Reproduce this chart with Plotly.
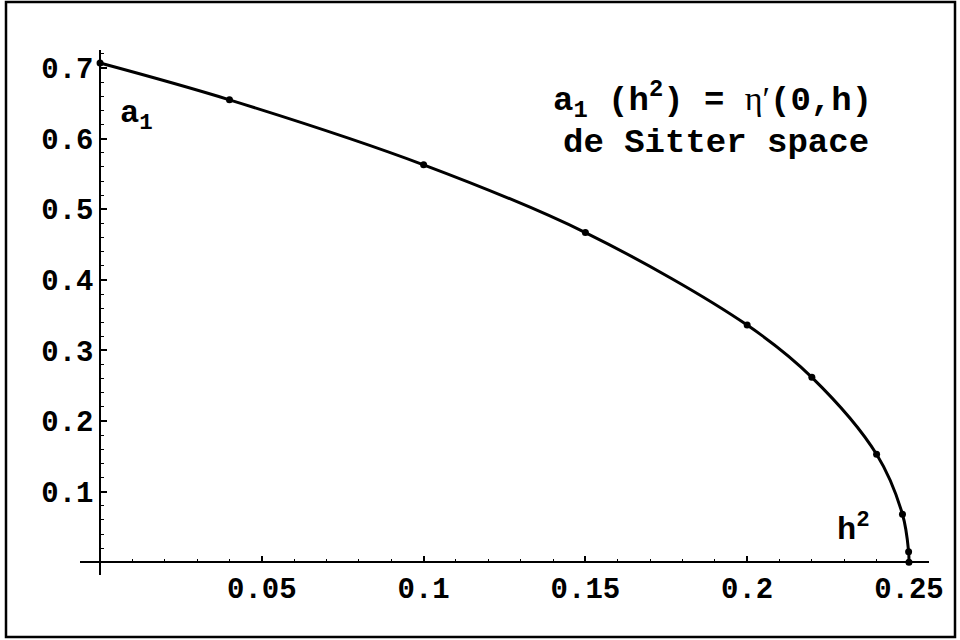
import plotly.graph_objects as go

# data
h2 = [0.0, 0.04, 0.1, 0.15, 0.2, 0.22, 0.24, 0.248, 0.2499, 0.25]
a1 = [0.7071, 0.655, 0.563, 0.467, 0.336, 0.262, 0.153, 0.068, 0.015, 0.0]

x_tickvals = [0.05, 0.1, 0.15, 0.2, 0.25]
x_ticktext = ["0.05", "0.1", "0.15", "0.2", "0.25"]
y_tickvals = [0.1, 0.2, 0.3, 0.4, 0.5, 0.6, 0.7]
y_ticktext = ["0.1", "0.2", "0.3", "0.4", "0.5", "0.6", "0.7"]

W, H = 960, 640
ML, MR, MT, MB = 80, 31, 50, 65
XR = [-0.0062, 0.2562]
YR = [-0.018, 0.7256]

FONT = "Liberation Mono"

def px_to_paper_x(px):
    return (px - ML) / (W - ML - MR)

def px_to_paper_y(py):
    return (H - MB - py) / (H - MT - MB)

fig = go.Figure()
fig.add_trace(go.Scatter(
    x=h2, y=a1, mode="lines+markers",
    line=dict(color="black", width=3, shape="spline", smoothing=1.0),
    marker=dict(color="black", size=7),
    showlegend=False, hoverinfo="skip",
))

xpos = (0 - YR[0]) / (YR[1] - YR[0])
ypos = (0 - XR[0]) / (XR[1] - XR[0])

fig.update_layout(
    width=W, height=H,
    margin=dict(l=ML, r=MR, t=MT, b=MB),
    paper_bgcolor="white", plot_bgcolor="white",
    font=dict(family=FONT, color="black"),
    xaxis=dict(
        range=XR, anchor="free", position=xpos,
        showgrid=False, zeroline=False,
        showline=True, linecolor="black", linewidth=1.5,
        ticks="inside", ticklen=6, tickwidth=1.5, tickcolor="black",
        tickvals=x_tickvals, ticktext=x_ticktext,
        tickfont=dict(family=FONT, size=29, color="black", weight="bold"),
        minor=dict(ticks="inside", dtick=0.01, tick0=0, ticklen=3, tickwidth=1.2, tickcolor="black", showgrid=False),
    ),
    yaxis=dict(
        range=YR, anchor="free", position=ypos,
        showgrid=False, zeroline=False,
        showline=True, linecolor="black", linewidth=1.5,
        ticks="inside", ticklen=6, tickwidth=1.5, tickcolor="black",
        tickvals=y_tickvals, ticktext=y_ticktext,
        tickfont=dict(family=FONT, size=29, color="black", weight="bold"),
        minor=dict(ticks="inside", dtick=0.02, tick0=0, ticklen=3, tickwidth=1.2, tickcolor="black", showgrid=False),
    ),
)

# frame around the whole graphic
fig.add_shape(type="rect", xref="paper", yref="paper",
              x0=px_to_paper_x(6), x1=px_to_paper_x(955),
              y0=px_to_paper_y(637), y1=px_to_paper_y(2),
              line=dict(color="black", width=2.5), layer="above")

def note(px, py, text, size=32):
    fig.add_annotation(xref="paper", yref="paper",
                       x=px_to_paper_x(px), y=px_to_paper_y(py),
                       xanchor="center", yanchor="middle",
                       text=text, showarrow=False,
                       font=dict(family=FONT, size=size, color="black", weight="bold"))

note(136, 116, "a<sub>1</sub>")
note(853, 528, "h<sup>2</sup>")
note(712, 100, "a<sub>1</sub> (h<sup>2</sup>) = <span style=\"font-family:'Liberation Serif'; font-weight:normal\">η′</span>(0,h)", size=34)
note(716, 143, "de Sitter space", size=34)

fig.write_html("out.html", config={"displayModeBar": False},
               post_script="document.body.style.margin='0';")
